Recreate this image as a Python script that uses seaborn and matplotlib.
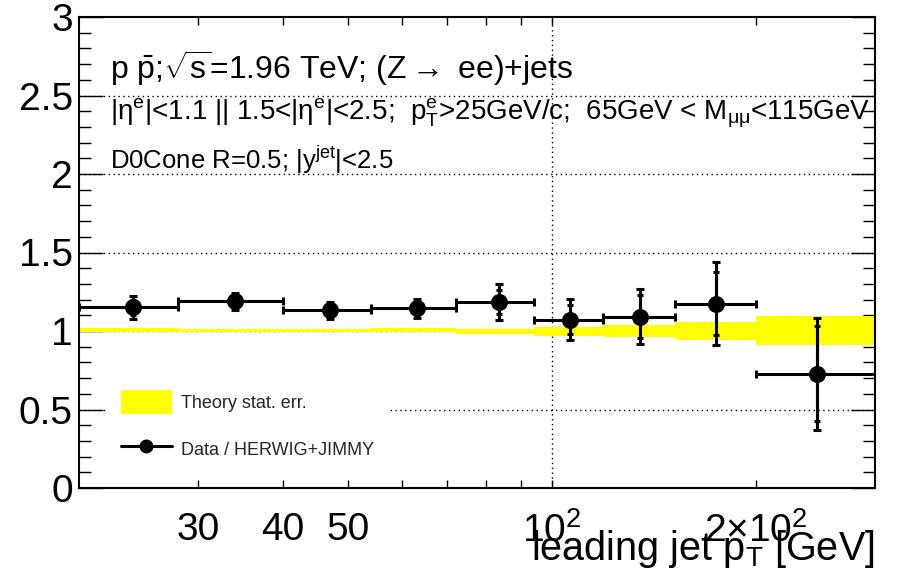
import numpy as np
import pandas as pd
import matplotlib
matplotlib.use("Agg")
import matplotlib.pyplot as plt
import seaborn as sns
from matplotlib import font_manager
from matplotlib.patches import Patch
from matplotlib.lines import Line2D
from matplotlib.ticker import FixedLocator, FixedFormatter

# ---------------- data ----------------
bin_edges = [20, 28, 40, 54, 72, 94, 119, 152, 200, 300]
pt_centers = [24.0, 34.0, 46.9, 63.1, 83.6, 106.3, 135.0, 174.6, 246.6]
ratio = [1.150, 1.188, 1.131, 1.144, 1.186, 1.072, 1.091, 1.175, 0.728]
err_total = [0.073, 0.055, 0.055, 0.063, 0.113, 0.129, 0.174, 0.262, 0.356]
err_stat = [0.048, 0.045, 0.045, 0.050, 0.077, 0.092, 0.138, 0.203, 0.304]
theory_center = [1.005, 1.003, 1.003, 1.007, 0.997, 0.997, 1.002, 1.002, 1.005]
theory_halfwidth = [0.012, 0.010, 0.010, 0.012, 0.016, 0.027, 0.038, 0.057, 0.092]

xtick_values = [30, 40, 50, 100, 200]
xtick_labels = ["30", "40", "50", r"$10^{2}$", r"$2{\times}10^{2}$"]
xminor_values = [60, 70, 80, 90]
ytick_values = [0, 0.5, 1, 1.5, 2, 2.5, 3]
ytick_labels = ["0", "0.5", "1", "1.5", "2", "2.5", "3"]

df = pd.DataFrame({"pt": pt_centers, "ratio": ratio})

# ---------------- style ----------------
sns.set_theme(style="ticks")
plt.rcParams["font.family"] = ["Liberation Sans", "DejaVu Sans"]
plt.rcParams["mathtext.fontset"] = "custom"
plt.rcParams["mathtext.rm"] = "Liberation Sans"
plt.rcParams["mathtext.it"] = "Liberation Sans"
plt.rcParams["mathtext.bf"] = "Liberation Sans:bold"
plt.rcParams["mathtext.default"] = "regular"

installed = {f.name for f in font_manager.fontManager.ttflist}
narrow_available = "Liberation Sans Narrow" in installed

W, H = 897, 581
fig = plt.figure(figsize=(W / 100, H / 100), dpi=100)
fig.patch.set_facecolor("white")
L, R, B, T = 79, 875, 488, 17
ax = fig.add_axes([L / W, (H - B) / H, (R - L) / W, (B - T) / H])
ax.set_facecolor("white")

ax.set_xscale("log")
ax.set_xlim(bin_edges[0], bin_edges[-1])
ax.set_ylim(0, 3)

# grid (dotted)
for yv in [0.5, 1.0, 1.5, 2.0, 2.5]:
    ax.axhline(yv, color="black", lw=1.0, ls=(0, (1, 2.5)), zorder=0.5)
ax.axvline(100, color="black", lw=1.0, ls=(0, (1, 2.5)), zorder=0.5)

# theory band
edges = np.array(bin_edges, dtype=float)
tc = np.array(theory_center)
thw = np.array(theory_halfwidth)
ax.bar(edges[:-1], 2 * thw, bottom=tc - thw, width=np.diff(edges), align="edge",
       color="#ffff00", edgecolor="none", linewidth=0, zorder=1)

# data
x = np.array(pt_centers)
xerr = np.vstack([x - edges[:-1], edges[1:] - x])
ax.errorbar(x, ratio, xerr=xerr, yerr=err_total, fmt="none", ecolor="black",
            elinewidth=2.2, capsize=3, capthick=2.2, zorder=3)
ax.errorbar(x, ratio, yerr=err_stat, fmt="none", ecolor="black",
            elinewidth=2.2, capsize=2.5, capthick=2.2, zorder=3)
sns.scatterplot(data=df, x="pt", y="ratio", ax=ax, color="black", s=150,
                marker="o", edgecolor="black", linewidth=0, zorder=4, legend=False)
ax.set_ylabel("")

# ticks
ax.xaxis.set_major_locator(FixedLocator(xtick_values))
ax.xaxis.set_major_formatter(FixedFormatter(xtick_labels))
ax.xaxis.set_minor_locator(FixedLocator(xminor_values))
ax.xaxis.set_minor_formatter(plt.NullFormatter())
ax.yaxis.set_major_locator(FixedLocator(ytick_values))
ax.yaxis.set_major_formatter(FixedFormatter(ytick_labels))
ax.yaxis.set_minor_locator(FixedLocator([v / 10 for v in range(31) if v % 5 != 0]))

ax.tick_params(axis="x", which="both", direction="in", top=True, bottom=True,
               length=6, width=1.0, color="black", labelsize=28, pad=17, labelcolor="black")
ax.tick_params(axis="y", which="major", direction="in", left=True, right=True,
               length=17, width=1.0, color="black", labelsize=28, pad=4.5, labelcolor="black")
ax.tick_params(axis="y", which="minor", direction="in", left=True, right=True,
               length=8.5, width=1.0, color="black")
for sp in ax.spines.values():
    sp.set_color("black")
    sp.set_linewidth(1.5)
    sp.set_zorder(5)

if narrow_available:
    xl = ax.set_xlabel(r"leading jet p$_{T}$ [GeV]", fontsize=34, loc="right",
                       color="black", family=["Liberation Sans Narrow", "Liberation Sans"])
else:
    xl = ax.set_xlabel(r"leading jet p$_{T}$ [GeV]", fontsize=28.5, loc="right",
                       color="black")
ax.xaxis.set_label_coords(1.0, (B - 560) / (B - T))
xl.set_verticalalignment("baseline")

# annotation text
ax.text(110 / W, 1 - 68 / H, r"p $\bar{p}$;$\sqrt{s}$=1.96 TeV; (Z$\rightarrow$ ee)+jets",
        transform=fig.transFigure, fontsize=23, va="center", ha="left", color="black")
ax.text(110 / W, 1 - 113 / H,
        r"|$\eta^{e}$|<1.1 || 1.5<|$\eta^{e}$|<2.5;  p$_{T}^{e}$>25GeV/c;  65GeV < M$_{\mu\mu}$<115GeV",
        transform=fig.transFigure, fontsize=20, va="center", ha="left", color="black")
ax.text(110 / W, 1 - 160 / H, r"D0Cone R=0.5; |y$^{jet}$|<2.5",
        transform=fig.transFigure, fontsize=18.5, va="center", ha="left", color="black")

# legend
handles = [Patch(facecolor="#ffff00", edgecolor="none"),
           Line2D([], [], color="black", lw=2.2, marker="o", markersize=9)]
labels = ["Theory stat. err.", "Data / HERWIG+JIMMY"]
leg = ax.legend(handles, labels, loc="upper left",
                bbox_to_anchor=(108 / W, 1 - 377 / H), bbox_transform=fig.transFigure,
                borderaxespad=0, fontsize=13, frameon=True, fancybox=False,
                handlelength=2.8, handleheight=1.7, handletextpad=0.5,
                labelspacing=1.27, borderpad=0.72)
leg.get_frame().set_facecolor("white")
leg.get_frame().set_edgecolor("none")
leg.get_frame().set_alpha(1.0)
leg.set_zorder(2)

fig.savefig("out.png", dpi=100, facecolor="white")
